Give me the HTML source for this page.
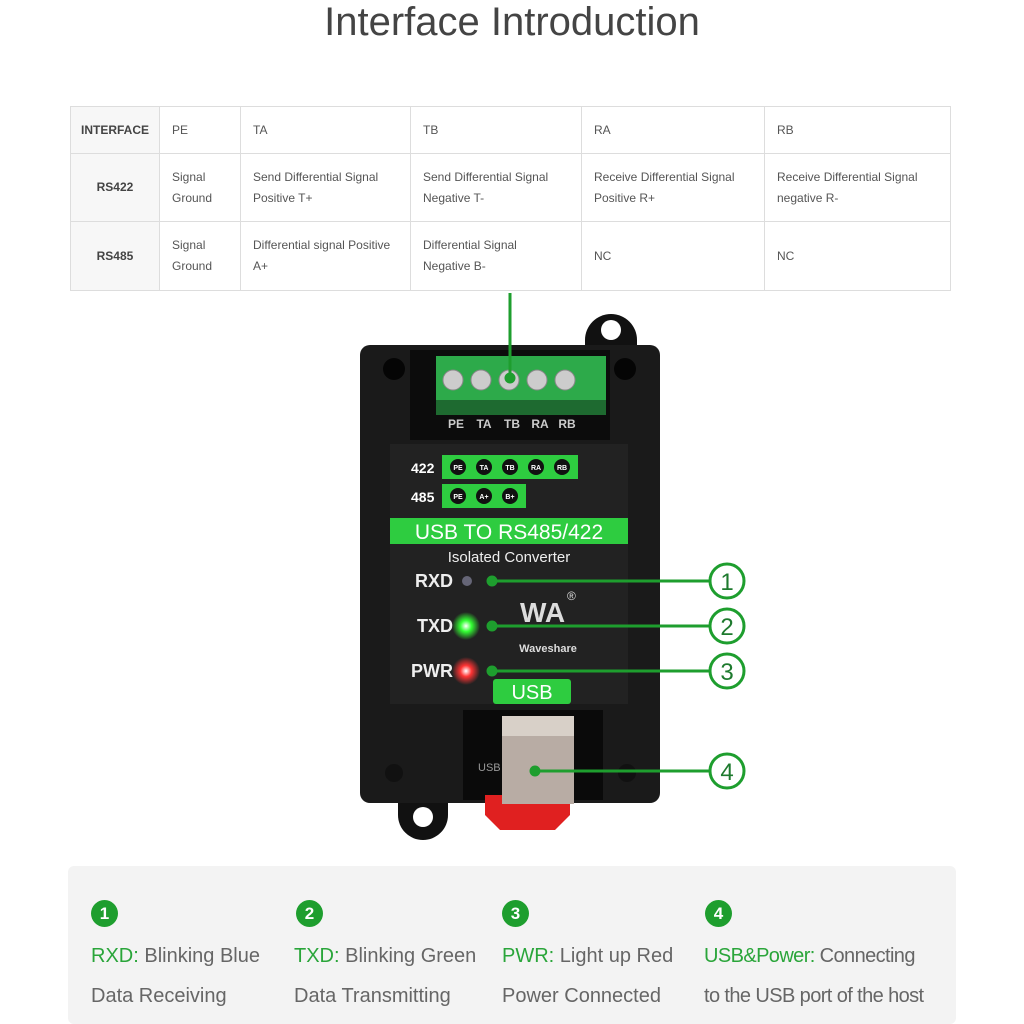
<!DOCTYPE html>
<html><head><meta charset="utf-8"><style>
body{margin:0;width:1024px;height:1024px;background:#fff;position:relative;overflow:hidden;font-family:"Liberation Sans",sans-serif}
.a{position:absolute}
h1{position:absolute;top:0;left:0;width:1024px;text-align:center;margin:0;font-weight:normal;font-size:40px;color:#444;line-height:44px}
table{position:absolute;left:70px;top:106px;width:880px;table-layout:fixed;border-collapse:collapse;font-size:12px;color:#555}
td{border:1px solid #ddd;padding:0 0 0 12px;vertical-align:middle;line-height:21px;overflow:hidden;white-space:nowrap}
td.h{font-weight:bold;background:#f7f7f7;padding:0;text-align:center;color:#444}
.pan{left:68px;top:866px;width:888px;height:158px;background:#f3f3f3;border-radius:6px}
.num{width:27px;height:27px;border-radius:50%;background:#1e9e2e;color:#fff;font-size:17px;font-weight:bold;text-align:center;line-height:27px}
.t{font-size:20px;color:#666;line-height:40px;white-space:nowrap}
.t b{color:#2aa53a;font-weight:normal}
</style></head><body>
<h1>Interface Introduction</h1>
<table>
<colgroup><col style="width:89px"><col style="width:81px"><col style="width:170px"><col style="width:171px"><col style="width:183px"><col style="width:186px"></colgroup>
<tr style="height:47px"><td class="h">INTERFACE</td><td>PE</td><td>TA</td><td>TB</td><td>RA</td><td>RB</td></tr>
<tr style="height:68px"><td class="h">RS422</td><td>Signal<br>Ground</td><td>Send Differential Signal<br>Positive T+</td><td>Send Differential Signal<br>Negative T-</td><td>Receive Differential Signal<br>Positive R+</td><td>Receive Differential Signal<br>negative R-</td></tr>
<tr style="height:69px"><td class="h">RS485</td><td>Signal<br>Ground</td><td>Differential signal Positive<br>A+</td><td>Differential Signal<br>Negative B-</td><td>NC</td><td>NC</td></tr>
</table>
<svg class="a" style="left:0;top:0" width="1024" height="860" font-family="Liberation Sans">
<defs><radialGradient id="g"><stop offset="0" stop-color="#fff"/><stop offset=".4" stop-color="#3f3"/><stop offset="1" stop-color="#3f3" stop-opacity="0"/></radialGradient>
<radialGradient id="r"><stop offset="0" stop-color="#fff"/><stop offset=".4" stop-color="#f33"/><stop offset="1" stop-color="#f33" stop-opacity="0"/></radialGradient></defs>
<path d="M585,340 a26,26 0 0 1 52,0 v10 h-52z" fill="#111"/><circle cx="611" cy="330" r="10" fill="#fff"/>
<path d="M398,800 h50 v15 a25,25 0 0 1 -50,0z" fill="#111"/><circle cx="423" cy="817" r="10" fill="#fff"/>
<rect x="360" y="345" width="300" height="458" rx="10" fill="#1a1a1a"/>
<rect x="410" y="350" width="200" height="90" fill="#0c0c0c"/>
<rect x="436" y="356" width="170" height="50" fill="#2daa4a"/>
<rect x="436" y="400" width="170" height="15" fill="#1e6a30"/>
<g fill="#ccc" stroke="#888"><circle cx="453" cy="380" r="10"/><circle cx="481" cy="380" r="10"/><circle cx="509" cy="380" r="10"/><circle cx="537" cy="380" r="10"/><circle cx="565" cy="380" r="10"/></g>
<g font-size="12" font-weight="bold" fill="#ccc" text-anchor="middle"><text x="456" y="428">PE</text><text x="484" y="428">TA</text><text x="512" y="428">TB</text><text x="540" y="428">RA</text><text x="567" y="428">RB</text></g>
<circle cx="394" cy="369" r="11" fill="#050505"/><circle cx="625" cy="369" r="11" fill="#050505"/>
<rect x="390" y="444" width="238" height="260" fill="#222"/>
<rect x="442" y="455" width="136" height="24" fill="#2ecc40"/><rect x="442" y="484" width="84" height="24" fill="#2ecc40"/>
<g font-size="14" font-weight="bold" fill="#fff"><text x="411" y="473">422</text><text x="411" y="502">485</text></g>
<g fill="#111"><circle cx="458" cy="467" r="8"/><circle cx="484" cy="467" r="8"/><circle cx="510" cy="467" r="8"/><circle cx="536" cy="467" r="8"/><circle cx="562" cy="467" r="8"/><circle cx="458" cy="496" r="8"/><circle cx="484" cy="496" r="8"/><circle cx="510" cy="496" r="8"/></g>
<g font-size="7" font-weight="bold" fill="#fff" text-anchor="middle"><text x="458" y="470">PE</text><text x="484" y="470">TA</text><text x="510" y="470">TB</text><text x="536" y="470">RA</text><text x="562" y="470">RB</text><text x="458" y="499">PE</text><text x="484" y="499">A+</text><text x="510" y="499">B+</text></g>
<rect x="390" y="518" width="238" height="26" fill="#2ecc40"/>
<text x="509" y="539" font-size="21" fill="#fff" text-anchor="middle">USB TO RS485/422</text>
<text x="509" y="562" font-size="15" fill="#eee" text-anchor="middle">Isolated Converter</text>
<g font-size="18" font-weight="bold" fill="#eee" text-anchor="end"><text x="453" y="587">RXD</text><text x="453" y="632">TXD</text><text x="453" y="677">PWR</text></g>
<circle cx="467" cy="581" r="5" fill="#667"/>
<circle cx="466" cy="626" r="14" fill="url(#g)"/><circle cx="466" cy="671" r="14" fill="url(#r)"/>
<text x="520" y="622" font-size="28" font-weight="bold" fill="#ddd">WA</text><text x="567" y="600" font-size="12" fill="#ddd">®</text>
<text x="548" y="652" font-size="11" font-weight="bold" fill="#ddd" text-anchor="middle">Waveshare</text>
<rect x="493" y="679" width="78" height="25" rx="3" fill="#2ecc40"/>
<text x="532" y="699" font-size="20" fill="#fff" text-anchor="middle">USB</text>
<rect x="463" y="710" width="140" height="90" fill="#0a0a0a"/>
<path d="M485,795 h85 v20 l-15,15 h-55 l-15,-15z" fill="#e02020"/>
<rect x="502" y="716" width="72" height="88" fill="#b8aca4"/><rect x="502" y="716" width="72" height="20" fill="#d8d0c8"/>
<text x="478" y="771" font-size="11" fill="#999">USB</text>
<circle cx="394" cy="773" r="9" fill="#111"/><circle cx="627" cy="773" r="9" fill="#111"/>
<g stroke="#1e9e2e" stroke-width="3" fill="#1e9e2e">
<line x1="510" y1="293" x2="510" y2="378"/><circle cx="510" cy="378" r="4"/>
<line x1="492" y1="581" x2="710" y2="581"/><circle cx="492" cy="581" r="4"/>
<line x1="492" y1="626" x2="710" y2="626"/><circle cx="492" cy="626" r="4"/>
<line x1="492" y1="671" x2="710" y2="671"/><circle cx="492" cy="671" r="4"/>
<line x1="535" y1="771" x2="710" y2="771"/><circle cx="535" cy="771" r="4"/>
</g>
<g fill="#fff" stroke="#1e9e2e" stroke-width="3"><circle cx="727" cy="581" r="17"/><circle cx="727" cy="626" r="17"/><circle cx="727" cy="671" r="17"/><circle cx="727" cy="771" r="17"/></g>
<g font-size="24" fill="#1e7a2e" text-anchor="middle"><text x="727" y="590">1</text><text x="727" y="635">2</text><text x="727" y="680">3</text><text x="727" y="780">4</text></g>
</svg>
<div class="a pan"></div>
<div class="a num" style="left:91px;top:900px">1</div>
<div class="a num" style="left:296px;top:900px">2</div>
<div class="a num" style="left:502px;top:900px">3</div>
<div class="a num" style="left:705px;top:900px">4</div>
<div class="a t" style="left:91px;top:936px"><b>RXD:</b> Blinking Blue<br>Data Receiving</div>
<div class="a t" style="left:294px;top:936px"><b>TXD:</b> Blinking Green<br>Data Transmitting</div>
<div class="a t" style="left:502px;top:936px"><b>PWR:</b> Light up Red<br>Power Connected</div>
<div class="a t" style="left:704px;top:936px;letter-spacing:-.6px"><b>USB&amp;Power:</b> Connecting<br>to the USB port of the host</div>
</body></html>
